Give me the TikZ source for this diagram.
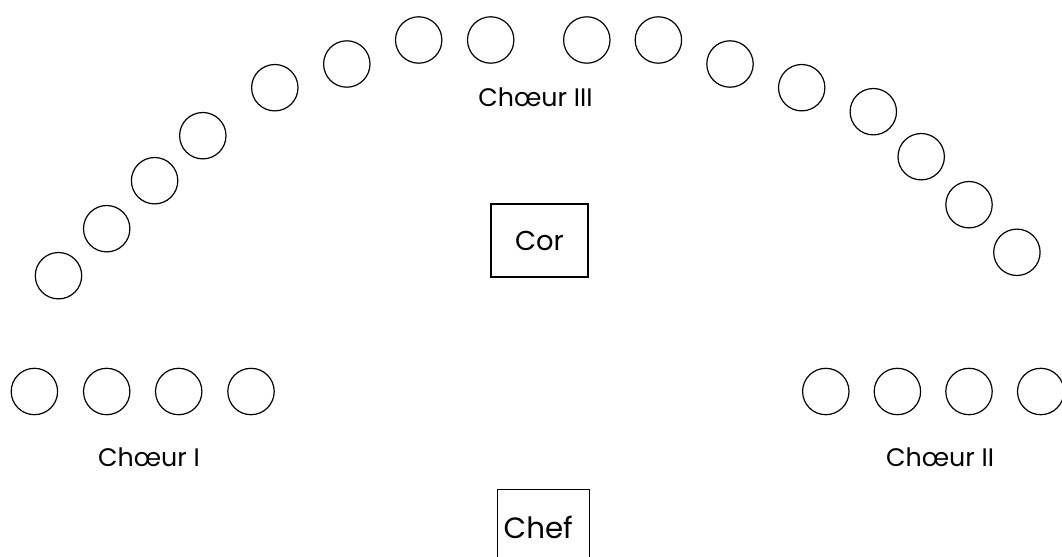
\documentclass[tikz,border=0pt]{standalone}
\usepackage{fontspec}
\setmainfont{Poppins}
\begin{document}
\begin{tikzpicture}[x=0.75pt,y=-0.75pt,
  seat/.style={draw,circle,line width=0.9pt,minimum size=34.8pt,inner sep=0pt},
  grouplabel/.style={anchor=base,inner sep=0pt,font=\fontsize{19pt}{22pt}\selectfont},
  corbox/.style={draw,line width=0.9pt,minimum width=72.75pt,minimum height=54.75pt,inner sep=0pt,font=\fontsize{20.5pt}{24pt}\selectfont},
  chefbox/.style={draw,line width=0.9pt,anchor=north west,text width=60pt,inner xsep=4.5pt,inner ysep=0pt,
    text height=36.5pt,text depth=40pt,align=left,font=\fontsize{22pt}{26pt}\selectfont}]
\useasboundingbox (0,0) rectangle (1062,556);
\clip (0,0) rectangle (1062,556);
% arc (Choeur III)
\foreach \n/\x/\y in {1/58.5/275.7,2/106.7/228.7,3/154.6/180.7,4/202.8/135.7,
  5/274.8/87.7,6/346.8/64,7/418.7/40,8/490.7/40,9/586.8/40,10/658.4/40,
  11/730/64,12/801.7/87.7,13/873.3/111.7,14/921.2/156.7,15/969/204.7,16/1016.9/252.3}
  \node[seat] (c\n) at (\x,\y) {};
% Choeur I
\foreach \n/\x in {1/34.4,2/106.7,3/178.7,4/251}
  \node[seat] (l\n) at (\x,391.5) {};
% Choeur II
\foreach \n/\x in {1/825.8,2/897.4,3/969,4/1040.7}
  \node[seat] (r\n) at (\x,391.5) {};
\node[grouplabel] (t3) at (535.4,106.7) {Chœur III};
\node[grouplabel] (t1) at (148.9,466.7) {Chœur I};
\node[grouplabel] (t2) at (940,466.7) {Chœur II};
\node[corbox] (cor) at (539.5,240.5) {Cor};
\node[chefbox] (chef) at (497,489) {Chef};
\end{tikzpicture}
\end{document}
